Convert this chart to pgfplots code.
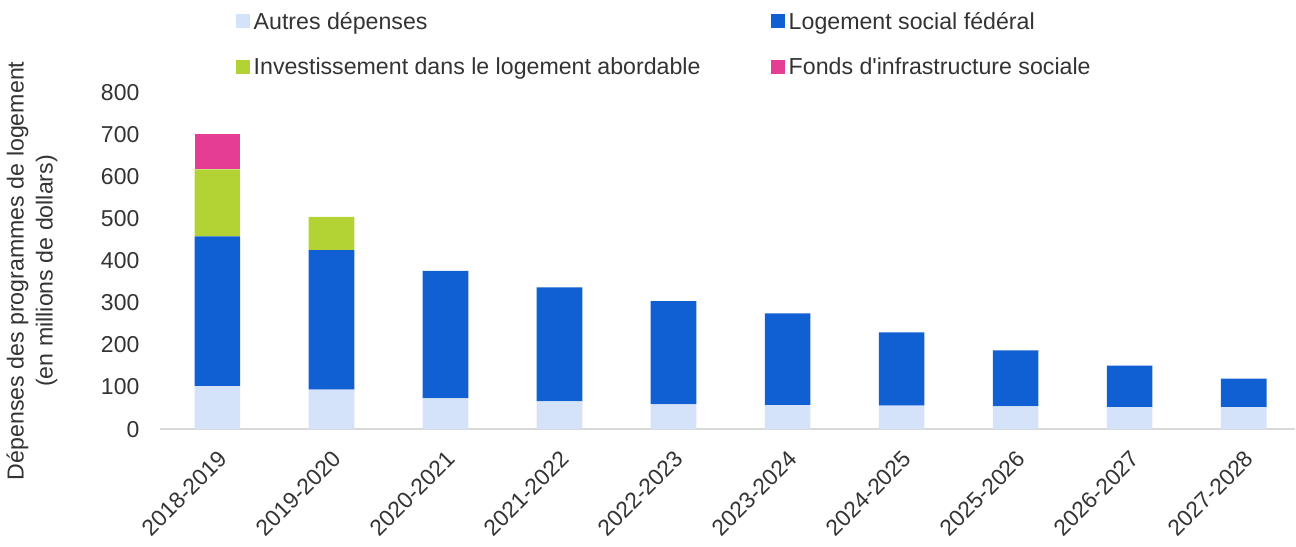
\documentclass[border=0pt]{standalone}
\usepackage{pgfplots}
\pgfplotsset{compat=1.18}
\usepackage{fontspec}
\setmainfont{Liberation Sans}[Ligatures=TeXOff]
\definecolor{cAutres}{HTML}{D4E3FA}
\definecolor{cLog}{HTML}{1060D4}
\definecolor{cInv}{HTML}{B3D334}
\definecolor{cFonds}{HTML}{E43D93}
\definecolor{txt}{HTML}{333333}
\begin{document}
\begin{tikzpicture}
\begin{axis}[
  scale only axis, width=566bp, height=168bp,
  ybar stacked, bar width=0.4,
  xmin=-0.5, xmax=9.45, ymin=0, ymax=800,
  xtick={0,...,9},
  xticklabels={2018-2019,2019-2020,2020-2021,2021-2022,2022-2023,2023-2024,2024-2025,2025-2026,2026-2027,2027-2028},
  xticklabel style={xshift=0bp, yshift=-5bp, rotate=45, anchor=north east, font=\fontsize{11.4}{13}\selectfont, text=txt},
  ytick={0,100,...,800},
  yticklabel style={font=\fontsize{11.5}{13}\selectfont, text=txt, xshift=-7bp},
  /pgf/number format/assume math mode=true,
  axis x line*=bottom, axis y line*=left,
  x axis line style={draw=black!15, line width=1pt, -},
  y axis line style={draw=none},
  tick style={draw=none},
  ylabel={Dépenses des programmes de logement\\(en millions de dollars)},
  ylabel style={align=center, font=\fontsize{11.6}{14.5}\selectfont, text=txt, at={(rel axis cs:-0.0845,0.47)}, anchor=south},
  legend columns=2,
  legend cell align=left,
  legend style={at={(0.066,1.03)}, anchor=south west, draw=none, fill=none,
    font=\fontsize{11.6}{13}\selectfont, text=txt,
    /tikz/every even column/.append style={column sep=33bp},
    row sep=9bp, inner sep=0pt},
  legend image code/.code={\fill[#1,draw=none] (0bp,-3bp) rectangle (7bp,4bp);},
]
\addplot[fill=cAutres, draw=none] coordinates {(0,102) (1,94) (2,73) (3,66) (4,59) (5,57) (6,56) (7,54) (8,52) (9,52)};
\addplot[fill=cLog, draw=none] coordinates {(0,356) (1,331) (2,303) (3,271) (4,245) (5,218) (6,174) (7,133) (8,99) (9,68)};
\addplot[fill=cInv, draw=none] coordinates {(0,159) (1,79) (2,0) (3,0) (4,0) (5,0) (6,0) (7,0) (8,0) (9,0)};
\addplot[fill=cFonds, draw=none] coordinates {(0,83) (1,0) (2,0) (3,0) (4,0) (5,0) (6,0) (7,0) (8,0) (9,0)};
\legend{Autres dépenses, Logement social fédéral, Investissement dans le logement abordable, Fonds d'infrastructure sociale}
\end{axis}
\path (current bounding box.north) ++(0,4bp);
\end{tikzpicture}
\end{document}
